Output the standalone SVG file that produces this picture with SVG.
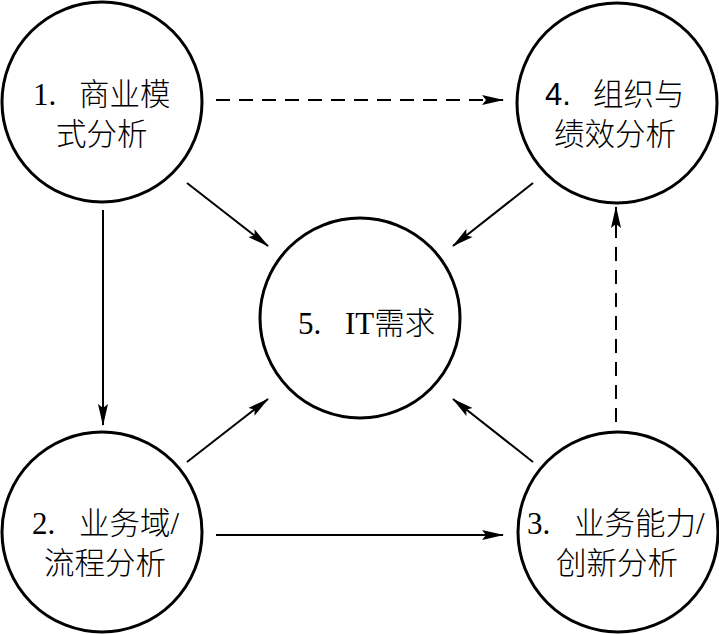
<svg xmlns="http://www.w3.org/2000/svg" width="719" height="634" viewBox="0 0 719 634">
<style>
.node{fill:#fff;stroke:#000;stroke-width:3}
.lbl{font-family:"Liberation Serif","Noto Sans CJK SC",serif;font-size:31px;fill:#000}
.cjk{font-family:"Noto Sans CJK SC",sans-serif;font-size:30.5px;font-weight:300}
.sans{font-family:"Liberation Sans","Noto Sans CJK SC",sans-serif}
.edge{stroke:#000;stroke-width:2;fill:none;marker-end:url(#ah)}
.dash{stroke-dasharray:14 9}
</style>
<defs>
<marker id="ah" markerUnits="userSpaceOnUse" markerWidth="22" markerHeight="12" viewBox="0 0 22 12" refX="21" refY="6" orient="auto">
<path d="M0,1 L22,6 L0,11 L4,6 z" fill="#000"/>
</marker>
</defs>
<g id="edges">
<line class="edge dash" x1="216" y1="100" x2="503" y2="100"/>
<line class="edge dash" x1="616" y1="422" x2="616" y2="207"/>
<line class="edge" x1="103" y1="210" x2="103" y2="425"/>
<line class="edge" x1="216" y1="535" x2="503" y2="535"/>
<line class="edge" x1="187" y1="183" x2="268" y2="246"/>
<line class="edge" x1="533" y1="183" x2="453" y2="246"/>
<line class="edge" x1="187" y1="462" x2="268" y2="399"/>
<line class="edge" x1="533" y1="462" x2="453" y2="399"/>
</g>
<g id="node1">
<circle class="node" cx="102" cy="102" r="100"/>
<text class="lbl"><tspan x="33" y="105">1.</tspan><tspan class="cjk" x="79" y="105">商业模</tspan><tspan class="cjk" x="56" y="145">式分析</tspan></text>
</g>
<g id="node4">
<circle class="node" cx="617" cy="103" r="100"/>
<text class="lbl"><tspan class="sans" x="545" y="105">4.</tspan><tspan class="cjk" x="593" y="105">组织与</tspan><tspan class="cjk" x="554" y="145">绩效分析</tspan></text>
</g>
<g id="node5">
<circle class="node" cx="360" cy="318" r="100"/>
<text class="lbl" y="334"><tspan x="298">5.</tspan><tspan x="345">IT</tspan><tspan class="cjk">需求</tspan></text>
</g>
<g id="node2">
<circle class="node" cx="102" cy="532" r="100"/>
<text class="lbl"><tspan x="32" y="534">2.</tspan><tspan class="cjk" x="79" y="534">业务域</tspan><tspan>/</tspan><tspan class="cjk" x="44" y="574">流程分析</tspan></text>
</g>
<g id="node3">
<circle class="node" cx="618" cy="532" r="100"/>
<text class="lbl"><tspan x="527" y="534">3.</tspan><tspan class="cjk" x="574" y="534">业务能力</tspan><tspan>/</tspan><tspan class="cjk" x="556" y="574">创新分析</tspan></text>
</g>
</svg>
